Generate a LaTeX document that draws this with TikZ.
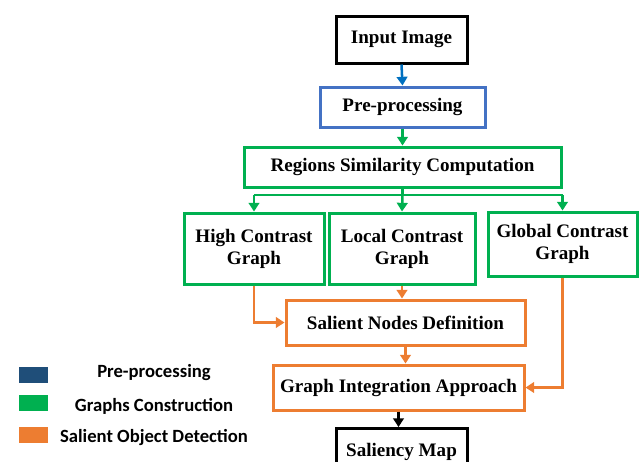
\documentclass[tikz,border=0pt]{standalone}
\usepackage{fontspec}
\setmainfont{Liberation Serif}
\newfontfamily\legendfont{Carlito}
\usetikzlibrary{arrows.meta}

\definecolor{boxblue}{RGB}{68,114,196}
\definecolor{arrblue}{RGB}{0,112,192}
\definecolor{navy}{RGB}{31,78,121}
\definecolor{grn}{RGB}{0,176,80}
\definecolor{orng}{RGB}{237,125,49}

\tikzset{every picture/.style={line width=0.75pt}}
\tikzset{
  stagebox/.style={draw, line width=2.25pt, align=center, inner sep=2pt,
    font=\fontsize{14.3}{16.5}\selectfont\bfseries},
  flow/.style={line width=1.9pt, -{Triangle[length=6.5pt,width=8pt]}},
  swatch/.style={minimum width=22pt, minimum height=12pt, inner sep=0pt},
  legtext/.style={font=\legendfont\fontsize{14}{16}\selectfont\bfseries, inner sep=0.75pt}
}

\begin{document}
\begin{tikzpicture}[x=0.75pt,y=0.75pt,yscale=-1,xscale=1]
		\useasboundingbox (0,0) rectangle (639,461);
		
		%stages
		\node [stagebox, minimum width=98.25pt, minimum height=35.25pt] (input) at (401.5,39.5) {Input Image};
		\node [stagebox, draw=boxblue, minimum width=123.75pt, minimum height=30pt] (pre) at (402.5,107) {Pre-processing};
		\node [stagebox, draw=grn, minimum width=237.75pt, minimum height=30pt] (regions) at (402.5,167) {Regions Similarity Computation};
		\node [stagebox, draw=grn, minimum width=105pt, minimum height=53.25pt] (high) at (254,248.5) {High Contrast\\Graph};
		\node [stagebox, draw=grn, minimum width=109.5pt, minimum height=53.25pt] (local) at (402,248.5) {Local Contrast\\Graph};
		\node [stagebox, draw=grn, minimum width=111.75pt, minimum height=48pt] (global) at (562.5,244) {Global Contrast\\Graph};
		\node [stagebox, draw=orng, minimum width=179.25pt, minimum height=33.75pt] (salient) at (405.5,322.5) {Salient Nodes Definition};
		\node [stagebox, draw=orng, minimum width=188.25pt, minimum height=33.75pt] (integ) at (398.5,387.5) {Graph Integration Approach};
		\node [stagebox, minimum width=98.25pt, minimum height=35.25pt] (saliency) at (401.5,452) {Saliency Map};
		
		%connectors
		\draw [flow, arrblue] (input.south) -- (pre.north);
		\draw [flow, grn] (pre.south) -- (regions.north);
		\coordinate (split) at (402.5,195);
		\draw [line width=1.9pt, grn] (regions.south) -- (split);
		\draw [line width=1.9pt, grn] (split -| high.north) -- (split -| global.north);
		\draw [flow, grn] (split -| high.north) -- (high.north);
		\draw [flow, grn] (split) -- (local.north);
		\draw [flow, grn] (split -| global.north) -- (global.north);
		\draw [flow, orng] (high.south) |- (salient.west);
		\draw [flow, orng] (local.south) -- (local.south |- salient.north);
		\draw [flow, orng] (global.south) |- (integ.east);
		\draw [flow, orng] (salient.south) -- (salient.south |- integ.north);
		\draw [flow] (integ.south) -- (integ.south |- saliency.north);
		
		%legend
		\node [swatch, fill=navy] (keypre) at (33.5,375) {};
		\node [swatch, fill=grn] (keygraph) at (33.5,403) {};
		\node [swatch, fill=orng] (keysod) at (33.5,434.5) {};
		\node [legtext] (txtpre) at (154,373) {Pre-processing};
		\node [legtext] (txtgraph) at (154,406) {Graphs Construction};
		\node [legtext] (txtsod) at (154,438) {Salient Object Detection};
		
	\end{tikzpicture}
\end{document}
